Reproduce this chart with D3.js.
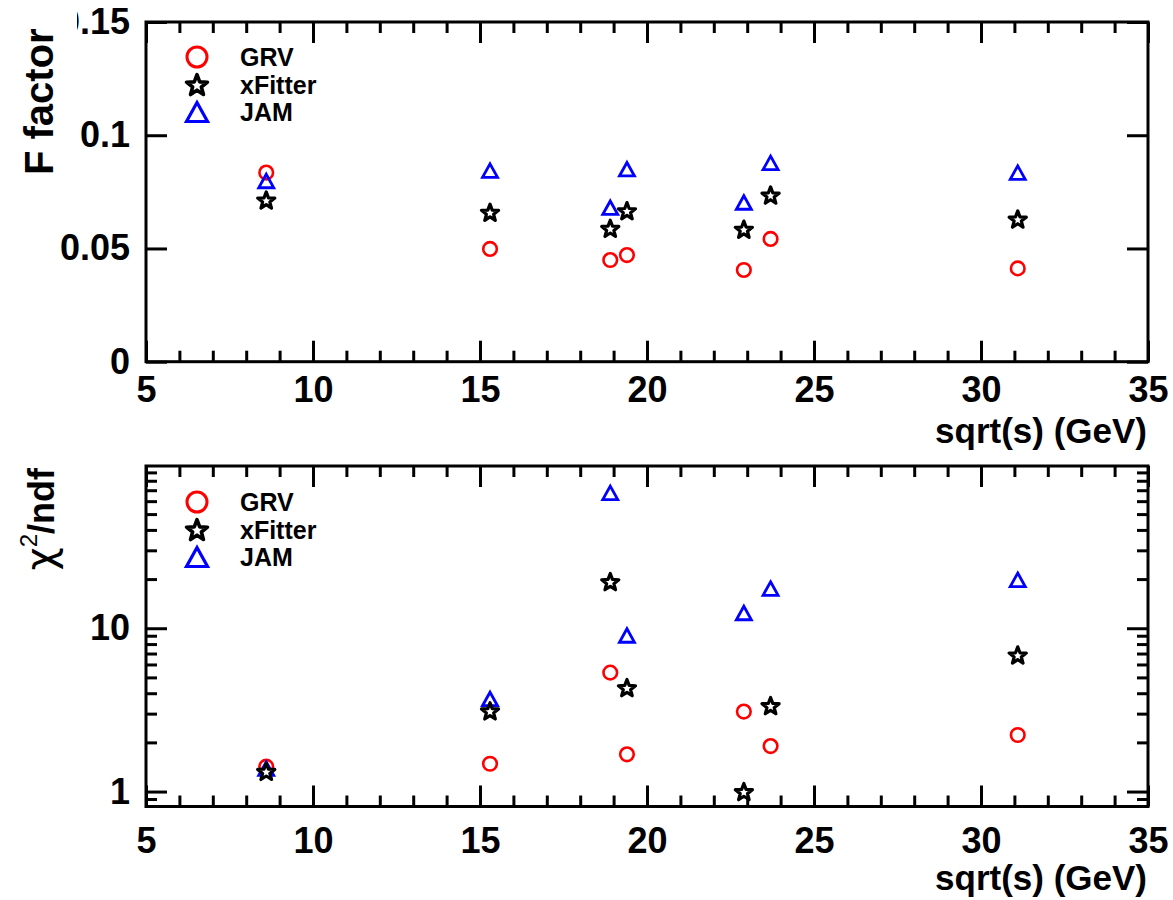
<!DOCTYPE html>
<html>
<head>
<meta charset="utf-8">
<script src="https://cdn.jsdelivr.net/npm/d3@7"></script>
<style>
  html, body { margin: 0; padding: 0; background: #fff; }
  svg { display: block; }
</style>
</head>
<body>
<script>
// ---------------- data ----------------
const energies = [8.6, 15.3, 18.9, 19.4, 22.9, 23.7, 31.1];

const fGRV     = [0.0835, 0.0498, 0.0449, 0.0471, 0.0405, 0.0542, 0.0412];
const fXFitter = [0.0714, 0.0660, 0.0589, 0.0667, 0.0585, 0.0736, 0.0630];
const fJAM     = [0.0798, 0.0844, 0.0680, 0.0850, 0.0703, 0.0878, 0.0835];

const chiGRV     = [1.42, 1.48, 5.35, 1.69, 3.09, 1.90, 2.22];
const chiXFitter = [1.33, 3.12, 19.3, 4.33, 1.00, 3.36, 6.86];
const chiJAM     = [1.38, 3.69, 67.5, 9.03, 12.4, 17.5, 19.8];

const xMajorTicks = [5, 10, 15, 20, 25, 30, 35];
const xMinorTicks = [6,7,8,9,11,12,13,14,16,17,18,19,21,22,23,24,26,27,28,29,31,32,33,34];
const fTicks = [0, 0.05, 0.1, 0.15];
const fTickLabels = ["0", "0.05", "0.1", "0.15"];
const chiTicks = [1, 10];
const chiTickLabels = ["1", "10"];
const chiMinorTicks = [0.9, 2,3,4,5,6,7,8,9, 20,30,40,50,60,70,80,90];

const seriesNames = ["GRV", "xFitter", "JAM"];
const xTitle = "sqrt(s) (GeV)";

// ---------------- layout ----------------
const W = 1173, H = 900;
const X0 = 146, X1 = 1148;
const top1 = 22, bot1 = 361.7;
const top2 = 466, bot2 = 806.5;
const FONT = "'Liberation Sans', Arial, Helvetica, sans-serif";

const svg = d3.select("body").append("svg")
  .attr("width", W).attr("height", H)
  .attr("font-family", FONT);
svg.append("rect").attr("width", W).attr("height", H).attr("fill", "#fff");

const x = d3.scaleLinear().domain([5, 35]).range([X0, X1]);
const yF = d3.scaleLinear().domain([0, 0.15]).range([bot1, top1]);
const yC = d3.scaleLog().domain([0.81, 98.5]).range([bot2, top2]);

// marker shapes
function starPath(R, r) {
  const pts = [];
  for (let i = 0; i < 10; i++) {
    const a = -Math.PI / 2 + i * Math.PI / 5;
    const rr = i % 2 === 0 ? R : r;
    pts.push([rr * Math.cos(a), rr * Math.sin(a) + R * 0.1]);
  }
  return "M" + pts.map(p => p[0].toFixed(2) + "," + p[1].toFixed(2)).join("L") + "Z";
}
function triPath(w, h) {
  return `M0,${-h/2}L${w/2},${h/2}L${-w/2},${h/2}Z`;
}

const styles = {
  GRV:     { color: "#ff0000" },
  xFitter: { color: "#000000" },
  JAM:     { color: "#0000ff" }
};

function drawMarker(g, name, cx, cy, big) {
  const c = styles[name].color;
  if (name === "GRV") {
    g.append("circle").attr("cx", cx).attr("cy", cy)
      .attr("r", big ? 10 : 6.8).attr("fill", "none")
      .attr("stroke", c).attr("stroke-width", big ? 3 : 2.6);
  } else if (name === "JAM") {
    g.append("path").attr("transform", `translate(${cx},${cy})`)
      .attr("d", big ? triPath(21, 19) : triPath(15, 13.5))
      .attr("fill", "none").attr("stroke", c)
      .attr("stroke-width", big ? 3.2 : 2.8).attr("stroke-linejoin", "miter");
  } else {
    g.append("path").attr("transform", `translate(${cx},${cy})`)
      .attr("d", big ? starPath(11, 4.6) : starPath(9, 3.8))
      .attr("fill", "#fff").attr("stroke", c)
      .attr("stroke-width", big ? 3.6 : 3.2).attr("stroke-linejoin", "round");
  }
}

function styleAxis(g, fontSize) {
  g.select(".domain").remove();
  g.selectAll(".tick line").attr("stroke", "#000").attr("stroke-width", 3);
  g.selectAll(".tick text").attr("fill", "#000")
    .attr("font-size", fontSize).attr("font-weight", "bold")
    .attr("font-family", FONT);
  g.attr("font-family", FONT);
}

function panel(y, top, bot, majorVals, majorLabels, minorVals, xLabelPad, seriesData) {
  const g = svg.append("g");

  g.append("g").attr("transform", `translate(0,${bot})`)
    .call(d3.axisBottom(x).tickValues(xMajorTicks).tickFormat(d3.format("d"))
      .tickSize(-21).tickPadding(xLabelPad))
    .call(a => styleAxis(a, 36));
  g.append("g").attr("transform", `translate(0,${bot})`)
    .call(d3.axisBottom(x).tickValues(xMinorTicks).tickFormat("").tickSize(-11))
    .call(a => styleAxis(a, 36));
  g.append("g").attr("transform", `translate(0,${top})`)
    .call(d3.axisTop(x).tickValues(xMajorTicks).tickFormat("").tickSize(-21))
    .call(a => styleAxis(a, 36));
  g.append("g").attr("transform", `translate(0,${top})`)
    .call(d3.axisTop(x).tickValues(xMinorTicks).tickFormat("").tickSize(-11))
    .call(a => styleAxis(a, 36));

  g.append("g").attr("transform", `translate(${X0},0)`)
    .call(d3.axisLeft(y).tickValues(majorVals)
      .tickFormat((d, i) => majorLabels[i]).tickSize(-21).tickPadding(16))
    .call(a => styleAxis(a, 36));
  g.append("g").attr("transform", `translate(${X1},0)`)
    .call(d3.axisRight(y).tickValues(majorVals).tickFormat("").tickSize(-21))
    .call(a => styleAxis(a, 36));
  if (minorVals) {
    g.append("g").attr("transform", `translate(${X0},0)`)
      .call(d3.axisLeft(y).tickValues(minorVals).tickFormat("").tickSize(-11))
      .call(a => styleAxis(a, 36));
    g.append("g").attr("transform", `translate(${X1},0)`)
      .call(d3.axisRight(y).tickValues(minorVals).tickFormat("").tickSize(-11))
      .call(a => styleAxis(a, 36));
  }

  g.append("rect").attr("x", X0).attr("y", top)
    .attr("width", X1 - X0).attr("height", bot - top)
    .attr("fill", "none").attr("stroke", "#000").attr("stroke-width", 3);

  const order = ["GRV", "JAM", "xFitter"];
  order.forEach(name => {
    const vals = seriesData[name];
    const sg = g.append("g");
    energies.forEach((e, i) => drawMarker(sg, name, x(e), y(vals[i]), false));
  });

  return g;
}

panel(yF, top1, bot1, fTicks, fTickLabels, null, 15,
  { GRV: fGRV, xFitter: fXFitter, JAM: fJAM });
panel(yC, top2, bot2, chiTicks, chiTickLabels, chiMinorTicks, 21,
  { GRV: chiGRV, xFitter: chiXFitter, JAM: chiJAM });

// legends
function legend(y0) {
  const lg = svg.append("g");
  seriesNames.forEach((name, i) => {
    const cy = y0 + i * 27.5;
    drawMarker(lg, name, 197, cy, true);
    lg.append("text").attr("x", 240).attr("y", cy + 9)
      .attr("font-size", 25).attr("font-weight", "bold")
      .attr("fill", "#000").text(name);
  });
}
legend(57);
legend(502);

// x titles
svg.append("text").attr("x", 1147).attr("y", 443)
  .attr("text-anchor", "end").attr("font-size", 35).attr("font-weight", "bold")
  .text(xTitle);
svg.append("text").attr("x", 1147).attr("y", 890)
  .attr("text-anchor", "end").attr("font-size", 35).attr("font-weight", "bold")
  .text(xTitle);

// y title bottom: chi^2/ndf
const yt2 = svg.append("text")
  .attr("transform", "translate(54,468) rotate(-90)")
  .attr("text-anchor", "end").attr("font-size", 36).attr("fill", "#000");
yt2.append("tspan").attr("font-weight", "normal").attr("font-size", 40)
  .attr("font-family", "'DejaVu Sans', sans-serif").text("χ");
yt2.append("tspan").attr("font-size", 24).attr("dy", -17).attr("font-weight", "normal").text("2");
yt2.append("tspan").attr("dy", 17).attr("font-weight", "bold").text("/ndf");

// y title top: F factor, pasted on a white box covering part of "0.15"
svg.append("rect").attr("x", 0).attr("y", 0).attr("width", 77).attr("height", 190).attr("fill", "#fff");
svg.append("text")
  .attr("transform", "translate(53,175) rotate(-90)")
  .attr("text-anchor", "start").attr("font-size", 40).attr("font-weight", "bold")
  .attr("fill", "#000").text("F factor");
</script>
</body>
</html>
